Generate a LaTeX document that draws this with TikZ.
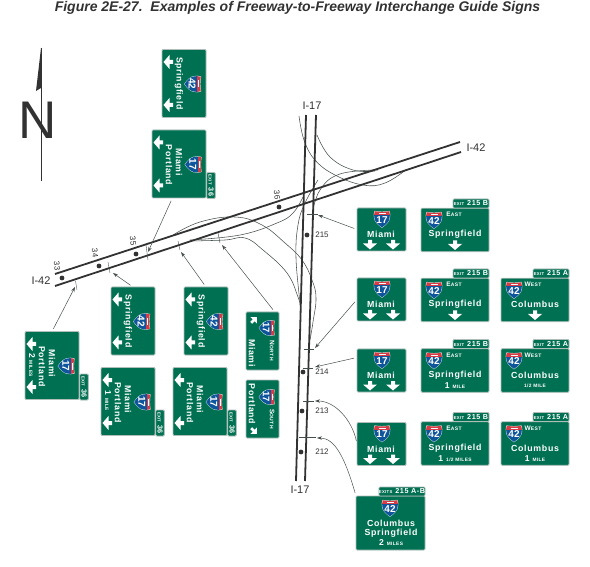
\documentclass[tikz,border=0pt]{standalone}
\usepackage{fontspec}
\setmainfont{Liberation Sans}
\newfontfamily\signfont[LetterSpace=8]{Liberation Sans}
\usepackage{xcolor}
\usetikzlibrary{arrows.meta}
\definecolor{signgreen}{RGB}{0,112,82}
\definecolor{signedge}{RGB}{175,190,184}
\definecolor{shieldblue}{RGB}{15,85,155}
\definecolor{shieldred}{RGB}{215,60,70}
\definecolor{roadcol}{RGB}{50,50,50}
\definecolor{rampcol}{RGB}{70,80,75}
\newcommand{\tabtxt}[2]{{\fontsize{4.2}{5}\selectfont #1}\hspace{3pt}#2}
\newcommand{\smc}[2]{{\fontsize{6.5}{6}\selectfont #1}{\fontsize{5}{6}\selectfont #2}}
\newcommand{\tinytxt}[1]{{\fontsize{4.8}{5}\selectfont #1}}
\tikzset{
  panel/.style={draw=signedge,fill=signgreen,rounded corners=1pt,line width=.8pt,
                inner sep=0pt,outer sep=0pt},
  tabbox/.style={panel,minimum width=36pt,minimum height=9pt,
                 font=\signfont\bfseries\fontsize{7.2}{8}\selectfont,text=white},
  sidetab/.style={panel,minimum width=8.5pt,minimum height=26pt},
  dirtxt/.style={font=\signfont\bfseries\fontsize{7.2}{8}\selectfont,text=white,inner sep=0pt},
  sidetxt/.style={dirtxt,rotate=-90},
  signtxt/.style={font=\signfont\bfseries\fontsize{8.8}{10}\selectfont,text=white,inner sep=0pt},
  sidesign/.style={signtxt,rotate=-90},
  smalltxt/.style={font=\signfont\bfseries\fontsize{8.5}{9}\selectfont,text=white,inner sep=0pt},
  sidesmall/.style={smalltxt,rotate=-90},
  road/.style={draw=roadcol,line width=1.8pt},
  ramp/.style={draw=rampcol,line width=.55pt},
  tickmark/.style={draw=rampcol,line width=.4pt},
  leader/.style={-{Stealth[length=5pt,width=3.4pt]},draw=rampcol,line width=.5pt,shorten <=3pt},
  milept/.style={circle,fill=roadcol,inner sep=0pt,minimum size=4.8pt},
  milelbl/.style={font=\fontsize{8}{9}\selectfont,text=roadcol,inner sep=0pt},
  routelbl/.style={font=\fontsize{11}{12}\selectfont,text=roadcol,inner sep=0pt},
  pics/whitearrow/.style={code={
    \fill[white] (0,4.5) -- (7,-1.5) -- (2,-1.5) -- (2,-5) -- (-2,-5) -- (-2,-1.5)
      -- (-7,-1.5) -- cycle;}},
  pics/smallarrow/.style={code={
    \fill[white] (0,4) -- (4.5,-.5) -- (1.4,-.5) -- (1.4,-4) -- (-1.4,-4) -- (-1.4,-.5)
      -- (-4.5,-.5) -- cycle;}},
  pics/shield/.style={code={
    \fill[white!85!signgreen] (-7.6,-8.2) .. controls (-3,-7.2) and (3,-7.2) .. (7.6,-8.2)
      .. controls (9,-3) and (9.2,3) .. (0,8.8) .. controls (-9.2,3) and (-9,-3) .. (-7.6,-8.2) -- cycle;
    \begin{scope}
      \clip (-7.2,-7.8) .. controls (-3,-6.8) and (3,-6.8) .. (7.2,-7.8)
        .. controls (8.6,-3) and (8.7,3) .. (0,8.3) .. controls (-8.7,3) and (-8.6,-3) .. (-7.2,-7.8) -- cycle;
      \fill[shieldblue] (-9,-4) rectangle (9,9);
      \fill[shieldred] (-9,-9) rectangle (9,-4);
      \draw[white,line width=.6pt] (-3.5,-5.6) -- (3.5,-5.6);
    \end{scope}
    \node[transform shape,text=white,inner sep=0pt,font=\bfseries\fontsize{10}{11}\selectfont]
      at (0,.8) {#1};}},
}
\begin{document}
\begin{tikzpicture}[x=1pt,y=-1pt]
  \useasboundingbox (0,0) rectangle (590,567);
  \node[font=\bfseries\itshape\fontsize{14}{16}\selectfont,text=roadcol,inner sep=0pt]
    (title) at (297.5,8) {Figure 2E-27.\ \ Examples of Freeway-to-Freeway Interchange Guide Signs};
  % ---------------- north arrow ----------------
  \node[font=\fontsize{53}{54}\selectfont,text=roadcol,inner sep=0pt] (north) at (37.5,120) {N};
  \draw[roadcol,line width=.7pt] (41,48) -- (41,181);
  \fill[roadcol] (41,48) -- (36,91) -- (41,88) -- cycle;
  % ---------------- ramps ----------------
  \draw[ramp] plot[smooth,tension=.7] coordinates {(299,116) (304,140) (315,160) (335,175) (363,185) (385,183) (407,169)};
  \draw[ramp] plot[smooth,tension=.7] coordinates {(317,135) (330,157) (353,170) (375,171)};
  \draw[ramp] plot[smooth,tension=.7] coordinates {(378,170) (340,174) (320,190) (312,215)};
  \draw[ramp] plot[smooth,tension=.7] coordinates {(173,235) (200,222) (235,217) (262,225) (285,243) (302,260) (312,280) (316,298) (313,322) (310,340)};
  \draw[ramp] plot[smooth,tension=.7] coordinates {(190,241) (225,240) (245,238) (263,250) (287,273) (298,297) (300,305)};
  \draw[ramp] plot[smooth,tension=.7] coordinates {(190,240) (240,235) (277,223) (293,213) (303,197)};
  \draw[ramp] plot[smooth,tension=.7] coordinates {(300,302) (296,258) (298,225) (305,203) (318,180)};
  % ---------------- roads ----------------
  \draw[road] (306,115) -- (296,481);
  \draw[road] (316,115) -- (305,481);
  \draw[road] (55,274) -- (460,142);
  \draw[road] (55,286) -- (461,152);
  \node[routelbl] (routeW) at (41,281) {I-42};
  \node[routelbl] (routeE) at (476,148) {I-42};
  \node[routelbl] (routeN) at (312,106) {I-17};
  \node[routelbl] (routeS) at (300,490) {I-17};
  % ---------------- mileposts ----------------
  \foreach \n/\x/\y/\a/\b in {33/62/278/57/266,34/99/266/95/253,35/136/254/133/241,36/279/207/277/195}{
    \node[milept] (pt\n) at (\x,\y) {};
    \node[milelbl,rotate=-85] (lbl\n) at (\a,\b) {\n};}
  \foreach \n/\x/\y in {215/307/235,214/303/372,213/302/411,212/301/452}{
    \node[milept] (pt\n) at (\x,\y) {};
    \node[milelbl] (lbl\n) at (322,\y) {\n};}
  % ---------------- ticks ----------------
  \draw[tickmark] (75.5,281) -- (77,290);
  \draw[tickmark] (108,262) -- (110,273);
  \draw[tickmark] (146,245) -- (148,260);
  \draw[tickmark] (178,241) -- (180,250);
  \draw[tickmark] (218,233) -- (220,243);
  \draw[tickmark] (307,214) -- (318,214);
  \draw[tickmark] (304,349) -- (314,349);
  \draw[tickmark] (303,368) -- (313,368);
  \draw[tickmark] (303,401) -- (314,401);
  \draw[tickmark] (299,437) -- (316,437);
  % ---------------- sideways signs, route 42 ----------------
  \foreach \n/\x/\y in {A/184/83.5,D/133/321,E/206/321}{
    \node[panel,minimum width=44pt,minimum height=68pt] (sign\n) at (\x,\y) {};
    \pic[rotate=-90] at (\x-16,\y-21.5) {whitearrow};
    \pic[rotate=-90] at (\x-16,\y+21.5) {whitearrow};
    \node[sidesign] (city\n) at (\x-5,\y) {Springfield};
    \pic[rotate=-90] at (\x+9,\y+.5) {shield=42};}
  % ---------------- sideways signs, route 17 ----------------
  \foreach \n/\x/\y in {B/179/164,C/52/365.5,F/128/401.5,G/200/401.5}{
    \node[panel,minimum width=54pt,minimum height=68pt] (sign\n) at (\x,\y) {};
    \node[sidetab] (tab\n) at (\x+32,\y+21.5) {};
    \node[sidetxt] (tabtxt\n) at (\x+32,\y+21.5) {\tabtxt{EXIT}{36}};
    \pic[rotate=-90] at (\x-21,\y-21.5) {whitearrow};
    \pic[rotate=-90] at (\x-21,\y+21.5) {whitearrow};
    \node[sidesign] (cityA\n) at (\x,\y-2) {Miami};
    \node[sidesign] (cityB\n) at (\x-10,\y+1) {Portland};
    \pic[rotate=-90] at (\x+14.5,\y+.5) {shield=17};}
  \node[sidesmall] (distC) at (32,365) {2 \tinytxt{MILES}};
  \node[sidesmall] (distF) at (108,401) {1 \tinytxt{MILE}};
  % ---------------- north and south ----------------
  \node[panel,minimum width=33pt,minimum height=58pt] (signH) at (262.5,341) {};
  \pic[rotate=135] at (254,320) {smallarrow};
  \node[sidesign] (cityH) at (252,353) {Miami};
  \node[sidetxt] (dirH) at (272,351) {\smc{N}{ORTH}};
  \pic[rotate=-90,scale=.95] at (267,328) {shield=17};
  \node[panel,minimum width=33pt,minimum height=58pt] (signI) at (262.5,409) {};
  \pic[rotate=45] at (254,431) {smallarrow};
  \node[sidesign] (cityI) at (252,404) {Portland};
  \node[sidetxt] (dirI) at (272,419) {\smc{S}{OUTH}};
  \pic[rotate=-90,scale=.95] at (267,397) {shield=17};
  % ---------------- overhead signs, route 17 ----------------
  \foreach \n/\y in {a/229.5,b/299.5,c/370.5,d/444}{
    \node[panel,minimum width=49pt,minimum height=43pt] (miami\n) at (381.5,\y) {};
    \pic at (382,\y-10.5) {shield=17};
    \node[signtxt] (cityM\n) at (381,\y+5) {Miami};
    \pic at (370,\y+15.5) {whitearrow};
    \pic at (393,\y+15.5) {whitearrow};}
  % ---------------- overhead signs, east ----------------
  \foreach \n/\y in {a/230,b/300,c/370.5,d/443.5}{
    \node[panel,minimum width=68pt,minimum height=43.5pt] (east\n) at (455,\y) {};
    \node[tabbox] (tabE\n) at (471,\y-26.5) {\tabtxt{EXIT}{215 B}};
    \pic at (434,\y-10) {shield=42};
    \node[dirtxt] (dirE\n) at (454,\y-15.5) {\smc{E}{AST}};
    \node[signtxt] (cityE\n) at (455,\y+4.5) {Springfield};}
  \pic at (455,245.5) {whitearrow};
  \pic at (455,315.5) {whitearrow};
  \node[smalltxt] (distEc) at (455,385.5) {1 \tinytxt{MILE}};
  \node[smalltxt] (distEd) at (455,458.5) {1 \tinytxt{1/2 MILES}};
  % ---------------- overhead signs, west ----------------
  \foreach \n/\y in {b/300,c/370.5,d/443.5}{
    \node[panel,minimum width=68pt,minimum height=43.5pt] (west\n) at (535,\y) {};
    \node[tabbox] (tabW\n) at (551,\y-26.5) {\tabtxt{EXIT}{215 A}};
    \pic at (514,\y-10) {shield=42};
    \node[dirtxt] (dirW\n) at (533,\y-15.5) {\smc{W}{EST}};
    \node[signtxt] (cityW\n) at (535,\y+4.5) {Columbus};}
  \pic at (535,315.5) {whitearrow};
  \node[smalltxt] (distWc) at (535,385.5) {\tinytxt{1/2 MILE}};
  \node[smalltxt] (distWd) at (535,458.5) {1 \tinytxt{MILE}};
  % ---------------- both exits ----------------
  \node[panel,minimum width=69pt,minimum height=54pt] (signM) at (390.5,523) {};
  \node[tabbox,minimum width=46pt] (tabM) at (402,491.5) {\tabtxt{EXITS}{215 A-B}};
  \pic at (390,508) {shield=42};
  \node[signtxt] (cityMa) at (391,523) {Columbus};
  \node[signtxt] (cityMb) at (391,533) {Springfield};
  \node[smalltxt] (distM) at (391,542.5) {2 \tinytxt{MILES}};
  % ---------------- leaders ----------------
  \coordinate (endB) at (148,252);
  \coordinate (endC) at (75,287);
  \coordinate (endD) at (113,273);
  \coordinate (endE) at (181,252);
  \coordinate (endH) at (222,245);
  \coordinate (enda) at (318,215);
  \coordinate (endb) at (315,348);
  \coordinate (endc) at (315,367);
  \coordinate (endd) at (315,401);
  \coordinate (endM) at (317,438);
  \draw[leader] (signB.-101) -- (endB);
  \draw[leader] (signC.north) -- (endC);
  \draw[leader] (signD.north) -- (endD);
  \draw[leader] (signE.north) -- (endE);
  \draw[leader] (signH.67) -- (endH);
  \draw[leader] (miamia.west) -- (enda);
  \draw[leader] (miamib.west) -- (endb);
  \draw[leader] (miamic.152) -- (endc);
  \draw[leader] (miamid.west) .. controls (352,420) and (335,401) .. (endd);
  \draw[leader] (signM.north west) .. controls (345,458) and (335,438) .. (endM);
\end{tikzpicture}
\end{document}
